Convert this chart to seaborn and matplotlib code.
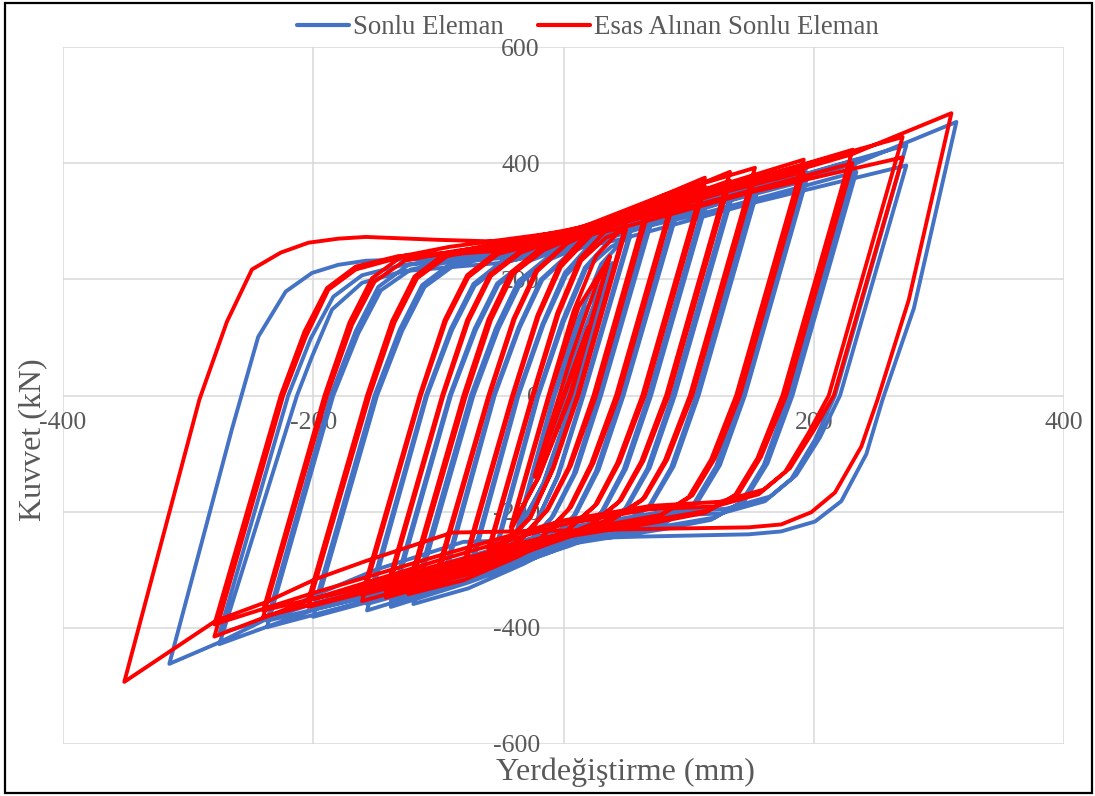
import matplotlib
matplotlib.use("Agg")
import matplotlib.pyplot as plt
import pandas as pd
import seaborn as sns
from matplotlib.lines import Line2D
from matplotlib.patches import Rectangle

# Series names, colours and axis labelling
series_names = ["Sonlu Eleman", "Esas Alınan Sonlu Eleman"]
series_colors = ["#4472C4", "#FF0000"]
x_ticks = [-400, -200, 0, 200, 400]
y_ticks = [-600, -400, -200, 0, 200, 400, 600]
x_title = "Yerdeğiştirme (mm)"
y_title = "Kuvvet (kN)"

# Cyclic response, (displacement mm, force kN) in loading order
blue_loops = [
    (0, 0), (21, 112),
    (-22, -140), (21, 110), (-22, -138),
    (8, 62), (28, 178), (39, 228),
    (8, 0), (-16, -150), (-38, -244),
    (-7, 0), (16, 140), (39, 226),
    (9, 0), (-16, -152), (-38, -238),
    (-8, 0), (12, 132), (30, 226), (53, 280),
    (15, 0), (-5, -140), (-23, -224), (-41, -264), (-56, -285),
    (-20, 0), (0, 126), (18, 218), (38, 256), (53, 272),
    (16, 0), (-4, -137), (-22, -220), (-40, -260), (-56, -277),
    (-21, 0), (-1, 128), (17, 220), (41, 277), (71, 317),
    (28, 0), (8, -136), (-10, -212), (-34, -270), (-58, -297), (-76, -315),
    (-36, 0), (-16, 122), (2, 207), (26, 261), (52, 287), (71, 304),
    (30, 0), (10, -132), (-8, -207), (-32, -262), (-56, -290), (-76, -305),
    (-37, 0), (-17, 122), (1, 211), (25, 269), (59, 307), (92, 337),
    (46, 0), (26, -130), (8, -208), (-16, -262), (-54, -300), (-98, -336),
    (-55, 0), (-35, 117), (-17, 199), (7, 247), (45, 285), (92, 325),
    (48, 0), (28, -128), (10, -204), (-14, -257), (-52, -292), (-98, -326),
    (-56, 0), (-36, 117), (-18, 200), (6, 247), (44, 291), (84, 330), (116, 358),
    (68, 0), (48, -128), (30, -202), (6, -248), (-32, -290), (-76, -332), (-120, -359),
    (-72, 0), (-52, 115), (-34, 195), (-10, 235), (28, 270), (74, 310), (116, 344),
    (70, 0), (50, -126), (32, -198), (8, -244), (-30, -282), (-76, -318), (-120, -346),
    (-74, 0), (-54, 116), (-36, 197), (-12, 239), (24, 275), (84, 322), (136, 366),
    (87, 0), (67, -126), (49, -196), (25, -238), (-13, -272), (-76, -322), (-138, -364),
    (-90, 0), (-70, 113), (-52, 191), (-28, 231), (8, 261), (74, 307), (136, 352),
    (89, 0), (69, -124), (51, -192), (27, -234), (-11, -267), (-76, -314), (-138, -354),
    (-91, 0), (-71, 115), (-53, 193), (-29, 233), (7, 265), (84, 330), (156, 377),
    (106, 0), (86, -124), (68, -192), (44, -226), (6, -258), (-76, -317), (-157, -370),
    (-109, 0), (-89, 113), (-71, 189), (-47, 229), (-10, 250), (74, 305), (156, 360),
    (108, 0), (88, -122), (70, -188), (46, -222), (8, -252), (-76, -310), (-157, -359),
    (-110, 0), (-90, 115), (-72, 192), (-48, 233), (-11, 253), (64, 303), (134, 350), (194, 392),
    (142, 0), (122, -122), (104, -187), (80, -220), (42, -238), (-36, -274), (-116, -332), (-200, -381),
    (-149, 0), (-129, 111), (-111, 187), (-87, 225), (-50, 241), (24, 275), (114, 325), (194, 370),
    (145, 0), (125, -120), (107, -184), (83, -217), (45, -232), (-36, -268), (-116, -324), (-200, -369),
    (-151, 0), (-131, 113), (-113, 190), (-89, 229), (-52, 245), (24, 277), (124, 337), (234, 406),
    (180, 0), (160, -120), (142, -184), (118, -214), (80, -230), (4, -256), (-96, -314), (-176, -364), (-237, -399),
    (-184, 0), (-164, 107), (-146, 181), (-122, 217), (-84, 233), (4, 260), (114, 315), (234, 385),
    (183, 0), (163, -117), (145, -180), (121, -210), (83, -224), (4, -250), (-96, -306), (-176, -356), (-237, -388),
    (-186, 0), (-166, 111), (-148, 187), (-124, 225), (-86, 241), (4, 267), (134, 345), (274, 431),
    (217, 0), (201, -76), (182, -144), (161, -182), (126, -203), (72, -208), (4, -234), (-96, -298), (-196, -366), (-275, -428),
    (-213, 0), (-201, 67), (-185, 148), (-161, 194), (-128, 214), (-52, 228), (44, 268), (154, 333), (274, 396),
    (221, 0), (205, -72), (186, -137), (165, -174), (130, -195), (74, -202), (4, -227), (-96, -290), (-196, -356), (-275, -410),
    (-220, 0), (-202, 98), (-184, 170), (-161, 207), (-128, 225), (-52, 236), (44, 276), (154, 350), (234, 400), (314, 471),
    (280, 150), (255, -7), (242, -101), (222, -182), (201, -217), (174, -234), (148, -239), (60, -243),
    (-80, -252), (-150, -300), (-200, -345), (-275, -425), (-315, -462),
    (-265, -58), (-244, 101), (-222, 179), (-201, 211), (-180, 225), (-158, 232), (-100, 236), (-52, 242), (10, 262),
]

red_loops = [
    (0, 0), (20, 118),
    (-23, -140), (20, 116), (-23, -138),
    (6, 66), (26, 190), (37, 240),
    (5, 0), (-20, -140), (-42, -232),
    (-11, 0), (12, 152), (37, 238),
    (6, 0), (-20, -142), (-42, -226),
    (-12, 0), (8, 145), (26, 240), (50, 295),
    (11, 0), (-9, -128), (-27, -212), (-45, -252), (-60, -272),
    (-24, 0), (-4, 140), (14, 232), (34, 272), (50, 286),
    (12, 0), (-8, -125), (-26, -208), (-44, -248), (-60, -264),
    (-25, 0), (-5, 142), (13, 235), (37, 292), (68, 332),
    (24, 0), (4, -124), (-14, -200), (-38, -258), (-62, -285), (-80, -302),
    (-40, 0), (-20, 136), (-2, 222), (22, 276), (48, 302), (68, 318),
    (26, 0), (6, -120), (-12, -195), (-36, -250), (-60, -278), (-80, -292),
    (-41, 0), (-21, 137), (-3, 226), (21, 284), (55, 322), (89, 352),
    (42, 0), (22, -118), (4, -196), (-20, -250), (-58, -288), (-102, -322),
    (-59, 0), (-39, 132), (-21, 214), (3, 262), (41, 300), (89, 340),
    (44, 0), (24, -116), (6, -192), (-18, -245), (-56, -280), (-102, -312),
    (-60, 0), (-40, 132), (-22, 215), (2, 262), (40, 306), (80, 345), (113, 375),
    (63, 0), (43, -116), (25, -190), (1, -236), (-37, -278), (-80, -318), (-124, -342),
    (-78, 0), (-58, 130), (-40, 210), (-16, 250), (22, 285), (70, 325), (113, 360),
    (65, 0), (45, -114), (27, -186), (3, -232), (-35, -270), (-80, -305), (-124, -330),
    (-80, 0), (-60, 131), (-42, 212), (-18, 254), (20, 290), (80, 338), (133, 385),
    (82, 0), (62, -114), (44, -184), (20, -226), (-18, -260), (-80, -310), (-142, -348),
    (-96, 0), (-76, 128), (-58, 206), (-34, 246), (4, 276), (70, 322), (133, 370),
    (84, 0), (64, -112), (46, -180), (22, -222), (-16, -255), (-80, -302), (-142, -338),
    (-97, 0), (-77, 130), (-59, 208), (-35, 248), (3, 280), (80, 345), (153, 392),
    (101, 0), (81, -112), (63, -180), (39, -214), (1, -246), (-80, -305), (-161, -354),
    (-114, 0), (-94, 128), (-76, 204), (-52, 244), (-14, 265), (70, 320), (153, 375),
    (103, 0), (83, -110), (65, -176), (41, -210), (3, -240), (-80, -298), (-161, -343),
    (-115, 0), (-95, 130), (-77, 207), (-53, 248), (-15, 268), (60, 318), (130, 365), (192, 406),
    (138, 0), (118, -110), (100, -175), (76, -208), (38, -226), (-40, -262), (-120, -318), (-204, -364),
    (-155, 0), (-135, 126), (-117, 202), (-93, 240), (-55, 256), (20, 290), (110, 340), (192, 385),
    (141, 0), (121, -108), (103, -172), (79, -205), (41, -220), (-40, -256), (-120, -310), (-204, -352),
    (-157, 0), (-137, 128), (-119, 205), (-95, 244), (-57, 260), (20, 292), (120, 352), (231, 423),
    (175, 0), (155, -108), (137, -172), (113, -202), (75, -218), (0, -244), (-100, -300), (-180, -348), (-240, -381),
    (-189, 0), (-169, 122), (-151, 196), (-127, 232), (-89, 248), (0, 275), (110, 330), (231, 400),
    (178, 0), (158, -105), (140, -168), (116, -198), (78, -212), (0, -238), (-100, -292), (-180, -340), (-240, -370),
    (-191, 0), (-171, 126), (-153, 202), (-129, 240), (-91, 256), (0, 282), (130, 360), (271, 445),
    (212, 0), (196, -64), (177, -132), (156, -170), (121, -191), (68, -196), (0, -222), (-100, -284), (-200, -350), (-279, -415),
    (-224, 0), (-206, 101), (-188, 182), (-166, 217), (-132, 237), (-52, 249), (40, 285), (150, 350), (271, 410),
    (216, 0), (200, -60), (181, -125), (160, -162), (125, -183), (70, -190), (0, -215), (-100, -276), (-200, -340), (-279, -394),
    (-226, 0), (-207, 110), (-189, 185), (-166, 222), (-132, 240), (-52, 252), (40, 292), (150, 365), (230, 415), (310, 486),
    (276, 165), (251, -7), (238, -88), (217, -167), (198, -201), (174, -222), (148, -227), (60, -230),
    (-89, -236), (-158, -285), (-198, -316), (-238, -356), (-278, -388), (-351, -493),
    (-291, -7), (-269, 127), (-249, 217), (-226, 246), (-204, 263), (-180, 270), (-158, 273), (-100, 268), (-52, 265), (10, 280),
]

frames = []
for name, pts in zip(series_names, [blue_loops, red_loops]):
    part = pd.DataFrame(pts, columns=["disp", "force"])
    part["series"] = name
    frames.append(part)
df = pd.concat(frames, ignore_index=True)

sns.set_style("white")
plt.rcParams["font.family"] = ["Liberation Serif", "DejaVu Serif"]
plt.rcParams["axes.unicode_minus"] = False
text_color = "#595959"

fig = plt.figure(figsize=(10.95, 7.96), dpi=100)
ax = fig.add_axes([63 / 1095, 52 / 796, 1001 / 1095, 697 / 796])

sns.lineplot(
    data=df, x="disp", y="force", hue="series",
    palette=dict(zip(series_names, series_colors)),
    sort=False, estimator=None, linewidth=2.8, legend=False, ax=ax,
)
for line in ax.lines:
    line.set_solid_joinstyle("round")
    line.set_solid_capstyle("round")

ax.set_xlim(x_ticks[0], x_ticks[-1])
ax.set_ylim(y_ticks[0], y_ticks[-1])
ax.set_xticks(x_ticks)
ax.set_yticks(y_ticks)
ax.set_xlabel("")
ax.set_ylabel("")
ax.set_axisbelow(True)
ax.grid(True, color="#D9D9D9", linewidth=1.1)

ax.spines["left"].set_position(("data", 0))
ax.spines["bottom"].set_position(("data", 0))
for side in ["left", "bottom", "top", "right"]:
    ax.spines[side].set_visible(side in ("left", "bottom"))
    ax.spines[side].set_color("none")

ax.tick_params(axis="both", length=0, labelsize=18.5, labelcolor=text_color)
ax.tick_params(axis="y", pad=17)
ax.tick_params(axis="x", pad=12)

fig.text(625 / 1095, 1 - 772 / 796, x_title, ha="center", va="center",
         fontsize=23, color=text_color)
fig.text(33 / 1095, 1 - 440 / 796, y_title, ha="center", va="center",
         rotation=90, fontsize=23, color=text_color)

handles = [Line2D([], [], color=c, linewidth=3) for c in series_colors]
fig.legend(handles, series_names, loc="center", bbox_to_anchor=(588 / 1095, 1 - 28 / 796),
           ncol=2, frameon=False, fontsize=19.4, handlelength=1.95, handletextpad=0.15,
           columnspacing=1.25, labelcolor=text_color)

fig.add_artist(Rectangle((0.005, 0.004), 0.992, 0.992, transform=fig.transFigure,
                         fill=False, edgecolor="black", linewidth=1.6))

fig.savefig("out.png", dpi=100)
